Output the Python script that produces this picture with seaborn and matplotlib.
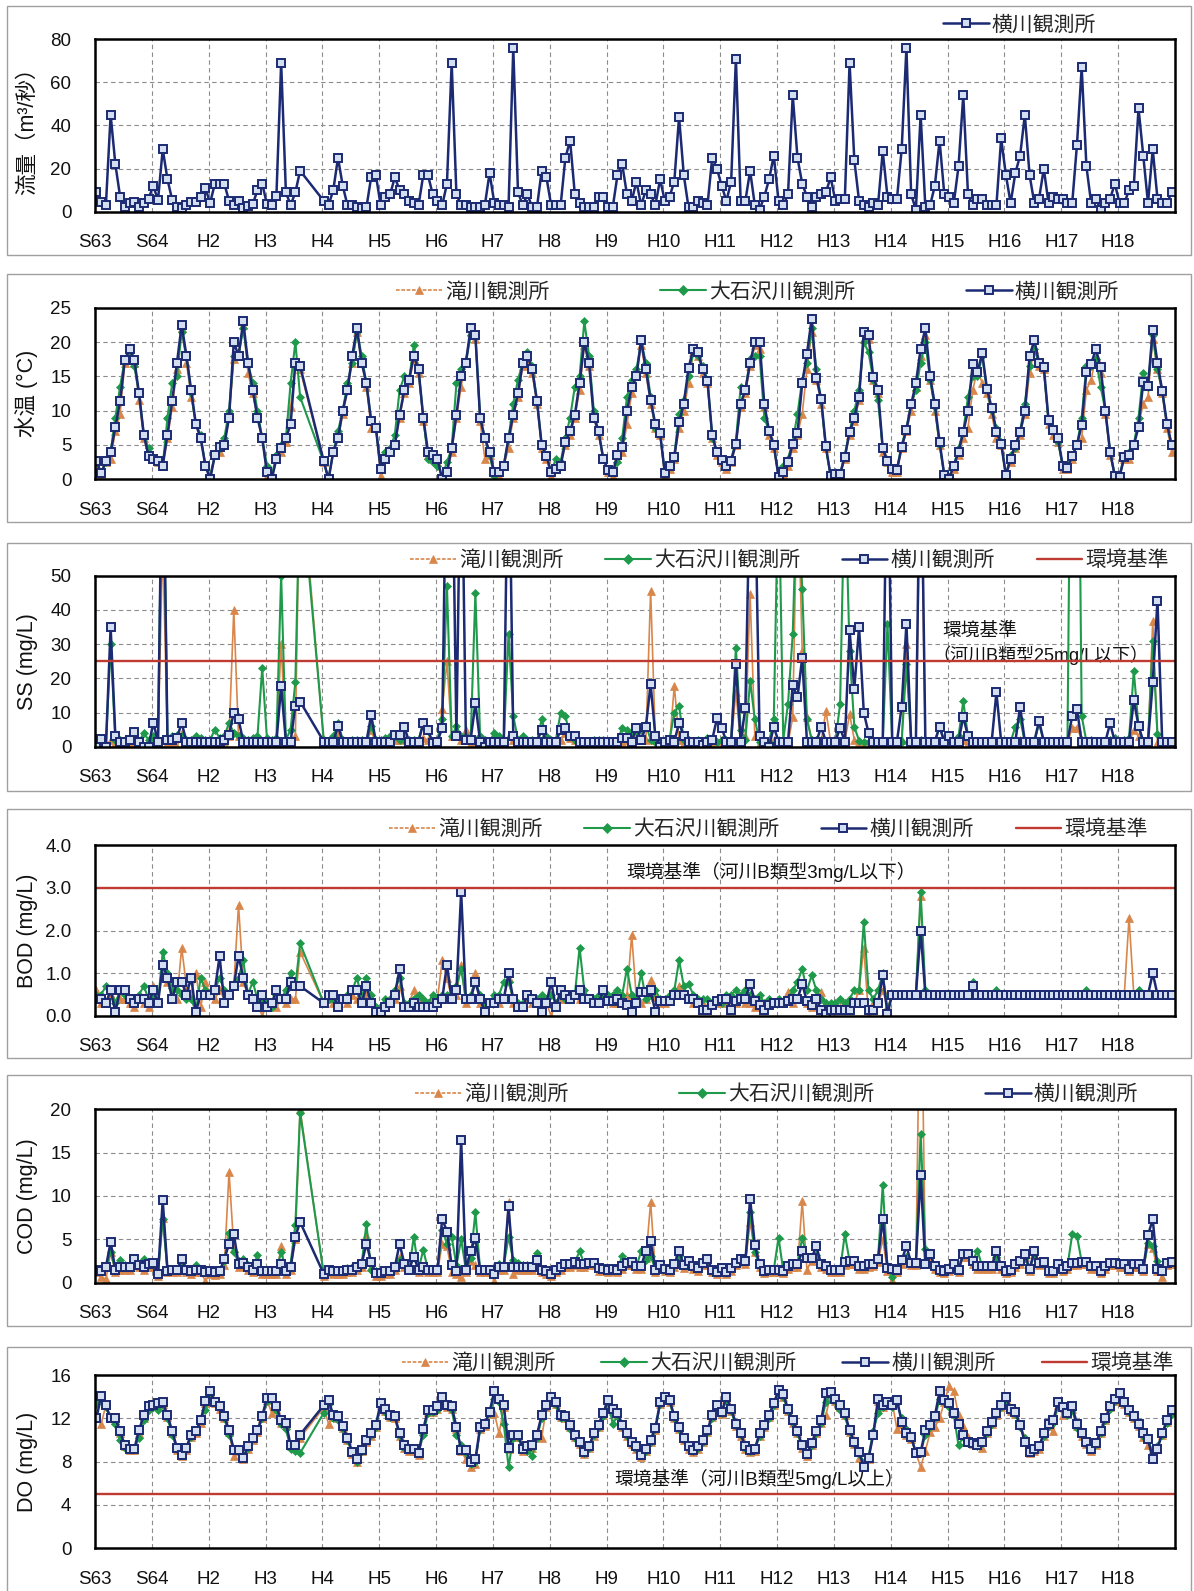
import numpy as np
import pandas as pd
import matplotlib
matplotlib.use("Agg")
import matplotlib.pyplot as plt
from matplotlib.lines import Line2D
from matplotlib.patches import Rectangle
import seaborn as sns

N = None

YEAR_LABELS = ["S63", "S64", "H2", "H3", "H4", "H5", "H6", "H7", "H8", "H9",
               "H10", "H11", "H12", "H13", "H14", "H15", "H16", "H17", "H18"]
STATIONS = ["滝川観測所", "大石沢川観測所", "横川観測所"]
STD_NAME = "環境基準"

STD_SS = 25
STD_BOD = 3
STD_DO = 5

# ---------------- 流量 (横川) ----------------
FLOW_YOKO = [
    [9, 4.6, 3, 45, 22, 7, 2.3, 4, 4.6, 2.3, 4, 6],
    [12, 5.4, 29, 15, 5.4, 2.3, 1.5, 3, 4.6, 4.6, 7, 11],
    [4, 13, 13, 13, 5, 3, 5, 1.5, 2.5, 3.5, 10, 13],
    [3.5, 3, 7.5, 69, 9, 3, 9, 19, N, N, N, N],
    [5, 3, 10, 25, 12, 3, 3, 2, 1.5, 2, 16, 17],
    [3, 7, 8, 16, 10, 8, 5, 4, 3, 17, 17, 8],
    [5, 3, 13, 69, 8, 3, 3, 2, 2, 2, 3, 18],
    [4, 3, 3, 2, 76, 9, 3, 8, 2, 2, 19, 16],
    [3, 3, 3, 25, 33, 8, 4, 2, 2, 2, 7, 7],
    [2, 2, 17, 22, 8, 5, 14, 3, 10, 8, 3, 15],
    [5, 7, 14, 44, 17, 2, 2, 5, 4, 3, 25, 20],
    [12, 5, 14, 71, 5, 5, 19, 3, 1, 7, 15, 26],
    [5, 3, 8, 54, 25, 13, 7, 2, 7, 8, 9, 16],
    [5, 6, 6, 69, 24, 5, 3, 2, 4, 3, 28, 7],
    [6, 6, 29, 76, 8, 1, 45, 2, 3, 12, 33, 8],
    [7, 4, 21, 54, 8, 3, 6, 6, 3, 3, 3, 34],
    [17, 4, 18, 26, 45, 17, 4, 6, 20, 4, 7, 6],
    [6, 4, 4, 31, 67, 21, 4, 6, 1, 4, 6, 13],
    [4, 4, 10, 12, 48, 26, 4, 29, 6, 4, 4, 9],
]

# ---------------- 水温 ----------------
TEMP_TAKI = [
    [2, 0.8, 2.5, 3, 7, 9.5, 17, 18.5, 17, 11.5, 6, 3.5],
    [3, 2.5, 2, 6, 10.5, 16, 22, 17, 12, 8, 6, 2],
    [0, 3.5, 4, 5, 9, 17.5, 18, 22.5, 15.5, 12.5, 9, 6],
    [0.5, 0, 3, 4, 5.5, 10.5, 16.5, 16, N, N, N, N],
    [2.5, 0, 4, 6, 9.5, 13, 17, 21.5, 17, 13.5, 7.5, 7.5],
    [0.5, 3, 4, 5, 9, 12.5, 14, 17.5, 15.5, 8.5, 3.5, 3],
    [2.5, 0, 1, 4, 9, 13.5, 17.5, 21.5, 20.5, 8.5, 3, 3.5],
    [1, 0.5, 2, 4.5, 9, 12, 16.5, 17.5, 15.5, 11, 4.5, 3],
    [0.5, 1.5, 2, 5, 6.5, 9, 13, 19.5, 16.5, 9, 6.5, 3],
    [1, 0.5, 3, 4, 8, 12.5, 15.5, 19.5, 15.5, 11, 7.5, 6.5],
    [0.5, 1.5, 3, 7.5, 10, 14, 18.5, 18, 15.5, 14, 6, 3.5],
    [2.5, 1.5, 2.5, 5, 10.5, 12.5, 16.5, 19.5, 19, 10.5, 6.5, 4.5],
    [0.3, 0.8, 2, 4.5, 6.5, 9.5, 16, 21.5, 14.5, 11, 4.5, 0.5],
    [0.5, 0.5, 3, 6.5, 8.5, 11.5, 20.5, 20.5, 14.5, 12.5, 4, 2.5],
    [1, 1, 4.5, 7, 10, 13.5, 18, 21, 14.5, 10, 5, 0.5],
    [0, 1.5, 3.5, 6, 7.5, 13, 16, 14, 12.5, 9.5, 6, 5],
    [0.5, 2.5, 4.5, 6.5, 9.5, 15.5, 19, 16.5, 16, 8, 6.5, 5.5],
    [1.5, 1.5, 3, 5, 6, 13, 14.5, 18, 15.5, 9.5, 3.5, 0.3],
    [0.3, 3, 3, 5, 8, 11, 12, 20.5, 16, 12.5, 7.5, 4],
]
TEMP_OISHI = [
    [2.5, 1, 2.5, 4, 9, 13.5, 17.5, 18, 16.5, 12.5, 6.5, 4.5],
    [3, 2.5, 2, 9, 14, 15, 21.5, 18, 12.5, 8, 6.5, 2],
    [0.5, 3.5, 4.5, 6, 10, 18, 18, 22, 17, 14, 10, 6],
    [2, 0.5, 3.5, 5, 6, 14, 20, 12, N, N, N, N],
    [2.5, 0, 4, 7, 10, 14, 17, 21.5, 18, 14, 8.5, 7.5],
    [1.5, 4, 4.5, 6.5, 13, 15, 14.5, 19.5, 16, 9, 3, 2.5],
    [2, 0.5, 2.5, 4.5, 14, 16, 17, 21, 21, 9, 6, 3.5],
    [0.5, 1, 2, 6, 11, 14.5, 17, 18.5, 16.5, 11.5, 5, 3.5],
    [1, 3, 2.5, 6, 9, 13.5, 15, 23, 18, 10, 7, 3],
    [1.5, 1, 2.5, 6, 12, 14.5, 16, 20, 17, 12, 7.5, 6.5],
    [1, 2, 3.5, 9.5, 11.5, 15, 18.5, 18, 16.5, 14.5, 6, 4],
    [2.5, 2, 3, 5.5, 13.5, 13, 17.5, 18, 18, 9, 7, 5],
    [0.5, 2, 3, 5.5, 9.5, 14.5, 17, 22, 16, 11.5, 4.5, 0.5],
    [1, 0.8, 3.5, 7, 10, 13, 20, 18.5, 14.5, 11.5, 4.5, 2.5],
    [1.5, 1.5, 5, 7.5, 11, 13, 17, 20, 14.5, 10.5, 5, 0.5],
    [0.3, 2, 4.5, 7, 12, 15, 15, 18, 13, 10, 7.5, 5.5],
    [0.6, 3.5, 4.5, 7, 11, 16.5, 19, 17, 16, 8.5, 7, 5.5],
    [2, 2, 3.5, 5, 9, 16.5, 16.5, 17.5, 13.5, 10, 4, 0.5],
    [0.5, 3.5, 4, 5, 9, 15.5, 13.5, 21, 16, 13, 8, 5],
]
TEMP_YOKO = [
    [2.6, 0.9, 2.6, 4, 7.6, 11.4, 17.4, 19, 17.4, 12.5, 6.5, 3.4],
    [3, 2.6, 2, 6.5, 11.4, 17, 22.5, 18, 13, 8, 6, 2],
    [0, 3.5, 4.7, 5, 9, 20, 18, 23, 17, 13, 9, 6],
    [1, 0, 3, 4.5, 6, 8, 17, 16.5, N, N, N, N],
    [2.6, 0, 4, 6, 10, 13, 18, 22, 17, 14, 8.5, 7.5],
    [1.5, 3, 4, 5, 9.4, 13, 14.5, 18, 16, 9, 4, 3.5],
    [3, 0, 1, 4.5, 9.4, 15, 17, 22, 21, 9, 6, 4],
    [1, 1, 2, 6, 9.4, 12.5, 17, 18, 16, 11.4, 5, 3.4],
    [1, 1.5, 2, 5.5, 7, 9.4, 14, 20, 17, 9, 7, 3],
    [1.3, 1, 3.5, 4.7, 10, 13.4, 15, 20.3, 16, 11.5, 8, 6.7],
    [0.9, 2, 3.2, 8.3, 11, 16.2, 19, 18.5, 16, 14.3, 6.4, 4],
    [2.8, 2, 2.7, 5.2, 11, 13, 17, 20, 20, 11, 7, 5],
    [0.4, 1, 2.5, 5.2, 6.7, 14, 18.3, 23.4, 14.8, 11.7, 4.8, 0.5],
    [0.8, 0.8, 3.3, 6.9, 9, 12, 21.5, 21, 14.9, 13, 4.5, 2.6],
    [1.5, 1.4, 4.7, 7.2, 10.9, 14, 19, 22, 15, 10.9, 5.5, 0.6],
    [0.1, 2, 4, 6.9, 10, 16.8, 15.6, 18.4, 13.2, 10.4, 6.9, 5.2],
    [0.6, 3, 5, 6.9, 10, 17.9, 20.3, 17, 16.4, 8.7, 7.2, 6],
    [2, 1.7, 3.4, 5, 7.9, 15.7, 16.8, 19, 16.3, 10, 4, 0.5],
    [0.4, 3.3, 3.5, 5, 7.6, 14.2, 13.6, 21.8, 17, 12.9, 8.1, 5],
]

# ---------------- SS ----------------
SS_TAKI = [
    [0, 0.5, 0, 2, 1, 1, 0, 0.5, 1, 0.5, 0, 0],
    [0.5, 1, 60, 1, 1, 0, 4, 0.5, 1, 1, 1, 1],
    [1, 1, 1, 1.5, 3, 40, 3, 0.5, 0.5, 1, 1, 1],
    [1, 0, 0.5, 30, 1, 2, 3, 85, N, N, N, N],
    [1, 1, 1.5, 4, 1, 0.5, 1, 1, 0, 1, 5, 0.5],
    [0, 1, 1, 2, 2, 3, 1, 1, 1, 2.5, 2, 1],
    [1.5, 11, 25, 3, 3, 2, 5, 1, 0, 0.5, 0.5, 0.5],
    [1.5, 0.5, 0.5, 3, 2, 1, 0.5, 0.5, 0.5, 0.5, 2, 0],
    [1, 1, 2, 4, 2.5, 2, 1, 1, 1, 1, 1, 1],
    [1, 1, 1, 1.5, 2, 1, 3, 2, 2, 45.6, 2, 1],
    [1, 1, 17.8, 2, 1, 1, 1, 1, 1, 1, 1, 1.5],
    [2, 1, 1, 16, 1, 3, 44.6, 3, 1, 1, 0.5, 2],
    [2, 1, 1, 8.6, 80, 28, 8.6, 2, 2, 1.5, 10.5, 1.5],
    [1.5, 1.5, 1.5, 9.6, 2, 1.5, 1.5, 0.5, 1, 1, 1, 1],
    [1, 1, 2, 30, 1, 1, 85, 1, 1, 1, 1.5, 0.5],
    [1, 0.5, 1, 2, 1, 1, 0.5, 1, 1, 0.5, 1, 1],
    [1, 1, 1, 2, 1, 1, 1, 1, 1, 1, 1, 1],
    [1, 1, 5.6, 5.6, 2, 1, 1, 1, 1, 1, 1, 1],
    [1, 1, 1, 5, 3, 1, 1, 36.8, 1, 0.5, 1, 1],
]
SS_OISHI = [
    [0.5, 1.5, 0.5, 30, 2, 2, 2, 2.5, 3, 1.5, 4, 2],
    [3, 2, 100, 2.5, 3, 3.5, 3, 2, 2, 3, 2.5, 2],
    [2, 5, 2.5, 3, 7, 4, 3, 2.5, 2, 2.5, 3, 23],
    [2.5, 2, 2.5, 50, 2, 5, 19, 80, N, N, N, N],
    [2, 1.5, 3, 7, 2, 0, 2, 2, 2, 1.5, 6, 2],
    [2, 2.5, 3, 3, 2, 2, 2, 2, 2, 7, 4.5, 1.5],
    [2, 8, 47, 3, 6, 3, 3, 2, 45, 3, 2, 1.5],
    [4, 3, 2, 33, 9, 2, 3, 2, 2, 1.5, 8, 3],
    [2, 2, 10, 9, 3, 2, 1.5, 1.5, 1.5, 2, 2, 2],
    [1.5, 1.5, 1.5, 5.6, 5, 4, 4.5, 5, 6.6, 2, 1.5, 1.5],
    [1.5, 2, 10, 12, 2, 2, 1.5, 2, 1.5, 2.5, 2, 1.5],
    [2, 2, 2, 29, 5, 2, 19.3, 8, 1.5, 1.5, 1.5, 8],
    [80, 2, 12.5, 33, 80, 46, 8, 2, 2, 2, 1.5, 1.5],
    [1.5, 12.5, 80, 28, 5.8, 1.8, 1.5, 1.5, 1.5, 1.5, 1.5, 36],
    [1.5, 1.5, 1.5, 24.2, 1.5, 1.5, 2, 1.5, 1.5, 1.5, 6.1, 1.5],
    [2, 1.5, 3, 13.3, 3, 1.5, 1.5, 1.5, 1.5, 1.5, 1.5, 1.5],
    [1.5, 1.5, 5.8, 8.1, 1.5, 1.5, 1.5, 6.8, 1.5, 1.5, 1.5, 1.5],
    [1.5, 2, 150, 150, 9, 1.5, 2, 1.5, 1.5, 1.5, 2, 2.5],
    [1.5, 2, 2.5, 22.2, 5.8, 1.5, 1.5, 31, 3.7, 1.5, 1.5, 1.5],
]
SS_YOKO = [
    [0, 2.2, 0, 35, 3, 1.5, 1.5, 2, 4.2, 1.5, 0, 0],
    [7, 1.5, 100, 2, 2, 2.5, 7, 1.5, 1.5, 1.5, 1.5, 1.5],
    [1.5, 1.5, 1.5, 2, 3.5, 10, 8, 1.5, 1.5, 1.5, 1.5, 1.5],
    [1.5, 1.5, 1.5, 17.7, 1.5, 1.5, 12, 13.2, N, N, N, N],
    [1.5, 1.5, 1.5, 6, 1.5, 1.5, 1.5, 1.5, 1.5, 1.5, 9.2, 1.5],
    [1.5, 1.5, 1.5, 3.5, 3.5, 5.8, 1.5, 1.5, 1.5, 6.8, 4.9, 1],
    [1.5, 5.5, 100, 100, 3, 100, 2, 2, 12.7, 1.5, 0, 1.5],
    [1.5, 1.5, 1.5, 100, 3, 1.5, 1.5, 1.5, 1.5, 1.5, 4.9, 1.5],
    [1.5, 1.5, 4.9, 5.5, 3, 3, 1.5, 1.5, 1.5, 1.5, 1.5, 1.5],
    [1.5, 1.5, 1.5, 2.5, 2.5, 1.5, 5.6, 2, 5.8, 18.3, 3, 0],
    [1.5, 2, 1.5, 7, 3, 1.5, 1.5, 1.5, 0.5, 1.5, 2, 8.3],
    [5.5, 1.5, 1.5, 24.2, 1.5, 11.3, 80, 80, 3, 1.5, 0, 5.8],
    [1.5, 1.5, 1.5, 18.1, 14.4, 26, 1.5, 1.5, 1.5, 5.8, 1.5, 1.5],
    [1.5, 5.5, 1.5, 34, 17, 35, 10, 4, 1.5, 1.5, 1.5, 100],
    [1.5, 1.5, 11.7, 36, 1.5, 1.5, 100, 1.5, 1.5, 1.5, 5.8, 1.5],
    [3, 1.5, 1.5, 8.8, 3, 1.5, 1.5, 1.5, 1.5, 1.5, 15.9, 1.5],
    [1.5, 1.5, 1.5, 11.7, 1.5, 1.5, 1.5, 7.6, 1.5, 1.5, 1.5, 1.5],
    [1.5, 1.5, 9, 11, 1.5, 1.5, 1.5, 1.5, 1.5, 1.5, 6.8, 1.5],
    [1.5, 1.5, 1.5, 13.6, 6.1, 1.5, 1.5, 18.8, 42.7, 1.5, 1.5, 1.5],
]

# ---------------- BOD ----------------
BOD_TAKI = [
    [0.6, 0.3, 0.3, 0.5, 0.2, 0.4, 0.4, 0.3, 0.2, 0.4, 0.3, 0.2],
    [0.7, 0.4, 1.1, 0.8, 0.5, 0.4, 1.6, 0.7, 0.5, 1.0, 0.2, 0.8],
    [0.5, 0.4, 0.6, 0.4, 0.5, 0.7, 2.6, 0.8, 0.5, 0.4, 0.3, 0.0],
    [0.3, 0.3, 0.2, 0.4, 0.3, 0.4, 0.4, 1.5, N, N, N, N],
    [0.3, 0.4, 0.3, 0.3, 0.4, 0.3, 0.5, 0.4, 0.3, 0.5, 0.3, 0.1],
    [0.0, 0.3, 0.3, 0.4, 0.7, 0.3, 0.3, 0.6, 0.3, 0.4, 0.3, 0.4],
    [0.4, 1.3, 0.9, 0.4, 0.5, 1.2, 0.3, 0.4, 1.0, 0.3, 0.2, 0.3],
    [0.3, 0.3, 0.4, 0.9, 0.3, 0.2, 0.2, 0.4, 0.3, 0.3, 0.1, 0.3],
    [0.0, 0.3, 0.4, 0.4, 0.5, 0.5, 0.4, 0.5, 0.4, 0.3, 0.3, 0.4],
    [0.4, 0.3, 0.3, 0.4, 0.5, 1.9, 0.4, 0.3, 0.4, 0.85, 0.45, 0.3],
    [0.3, 0.4, 0.5, 0.7, 0.5, 0.4, 0.3, 0.3, 0.3, 0.2, 0.3, 0.3],
    [0.3, 0.3, 0.2, 0.3, 0.4, 0.3, 0.3, 0.2, 0.3, 0.2, 0.3, 0.3],
    [0.3, 0.3, 0.55, 0.3, 0.4, 0.75, 0.3, 0.2, 0.3, 0.55, 0.3, 0.2],
    [0.2, 0.2, 0.3, 0.3, 0.3, 0.6, 1.6, 0.0, 0.3, 0.3, 0.6, 0.2],
    [0.5, 0.5, 0.5, 0.5, 0.5, 0.5, 2.8, 0.5, 0.5, 0.5, 0.5, 0.5],
    [0.5, 0.5, 0.5, 0.5, 0.5, 0.5, 0.5, 0.5, 0.5, 0.5, 0.5, 0.5],
    [0.5, 0.5, 0.5, 0.5, 0.5, 0.5, 0.5, 0.5, 0.5, 0.5, 0.5, 0.5],
    [0.5, 0.5, 0.5, 0.5, 0.5, 0.5, 0.5, 0.5, 0.5, 0.5, 0.5, 0.5],
    [0.5, 0.5, 2.3, 0.5, 0.5, 0.5, 0.5, 0.5, 0.5, 0.5, 0.5, 0.5],
]
BOD_OISHI = [
    [0.5, 0.5, 0.7, 0.6, 0.3, 0.6, 0.5, 0.4, 0.3, 0.5, 0.7, 0.4],
    [0.5, 0.3, 1.5, 1.0, 0.65, 0.6, 0.5, 0.4, 0.4, 0.1, 0.9, 0.6],
    [0.5, 0.6, 0.9, 0.6, 0.5, 0.7, 0.9, 1.3, 0.5, 0.8, 0.4, 0.3],
    [0.3, 0.2, 0.5, 0.4, 0.6, 1.0, 0.7, 1.7, N, N, N, N],
    [0.3, 0.4, 0.4, 0.3, 0.4, 0.5, 0.6, 0.9, 0.4, 0.9, 0.5, 0.2],
    [0.2, 0.4, 0.4, 0.6, 0.9, 0.3, 0.3, 0.4, 0.5, 0.4, 0.3, 0.5],
    [0.4, 0.5, 0.5, 0.4, 0.7, 1.1, 0.4, 0.5, 0.8, 0.5, 0.3, 0.3],
    [0.5, 0.5, 0.8, 0.8, 0.4, 0.3, 0.3, 0.5, 0.4, 0.4, 0.5, 0.4],
    [0.5, 0.3, 0.5, 0.4, 0.4, 0.5, 1.6, 0.6, 0.4, 0.4, 0.5, 0.4],
    [0.5, 0.5, 0.6, 0.5, 1.1, 0.5, 0.4, 1.0, 0.4, 0.5, 0.6, 0.4],
    [0.4, 0.5, 0.6, 1.3, 0.7, 0.75, 0.5, 0.4, 0.4, 0.4, 0.3, 0.4],
    [0.3, 0.5, 0.5, 0.6, 0.5, 0.6, 0.5, 0.4, 0.5, 0.3, 0.4, 0.3],
    [0.4, 0.3, 0.4, 0.6, 0.8, 1.1, 0.6, 0.95, 0.6, 0.4, 0.3, 0.3],
    [0.3, 0.4, 0.3, 0.4, 0.6, 0.6, 2.2, 0.6, 0.4, 0.6, 1.0, 0.15],
    [0.5, 0.5, 0.5, 0.5, 0.5, 0.5, 2.9, 0.6, 0.5, 0.5, 0.5, 0.5],
    [0.5, 0.5, 0.5, 0.5, 0.5, 0.8, 0.5, 0.5, 0.5, 0.5, 0.6, 0.5],
    [0.5, 0.5, 0.5, 0.5, 0.5, 0.5, 0.5, 0.5, 0.5, 0.5, 0.5, 0.5],
    [0.5, 0.5, 0.5, 0.5, 0.5, 0.6, 0.5, 0.5, 0.5, 0.5, 0.5, 0.5],
    [0.5, 0.5, 0.5, 0.5, 0.6, 0.5, 0.5, 0.5, 0.5, 0.5, 0.5, 0.5],
]
BOD_YOKO = [
    [0.4, 0.4, 0.3, 0.6, 0.1, 0.6, 0.6, 0.4, 0.3, 0.4, 0.4, 0.3],
    [0.6, 0.3, 1.2, 0.9, 0.4, 0.8, 0.8, 0.5, 0.9, 0.1, 0.5, 0.5],
    [0.5, 0.6, 1.4, 0.3, 0.5, 0.7, 1.4, 0.9, 0.5, 0.4, 0.2, 0.5],
    [0.2, 0.3, 0.6, 0.4, 0.4, 0.8, 0.7, 0.7, N, N, N, N],
    [0.3, 0.5, 0.5, 0.2, 0.4, 0.4, 0.6, 0.6, 0.3, 0.7, 0.3, 0.1],
    [0.1, 0.2, 0.3, 0.5, 1.1, 0.2, 0.2, 0.3, 0.2, 0.2, 0.2, 0.2],
    [0.3, 0.4, 1.2, 0.4, 0.6, 2.9, 0.4, 0.4, 0.8, 0.4, 0.1, 0.3],
    [0.3, 0.4, 0.4, 1.0, 0.4, 0.2, 0.2, 0.5, 0.4, 0.3, 0.1, 0.3],
    [0.8, 0.2, 0.6, 0.5, 0.4, 0.5, 0.6, 0.4, 0.4, 0.3, 0.3, 0.6],
    [0.35, 0.35, 0.4, 0.3, 0.25, 0.1, 0.3, 0.55, 0.55, 0.6, 0.1, 0.35],
    [0.35, 0.35, 0.5, 0.5, 0.5, 0.4, 0.4, 0.3, 0.15, 0.15, 0.25, 0.35],
    [0.4, 0.4, 0.15, 0.35, 0.4, 0.4, 0.75, 0.35, 0.25, 0.15, 0.25, 0.3],
    [0.3, 0.3, 0.35, 0.4, 0.4, 0.75, 0.35, 0.25, 0.4, 0.15, 0.05, 0.15],
    [0.15, 0.15, 0.15, 0.15, 0.3, 0.3, 0.3, 0.15, 0.15, 0.3, 0.95, 0.05],
    [0.5, 0.5, 0.5, 0.5, 0.5, 0.5, 2.0, 0.5, 0.5, 0.5, 0.5, 0.5],
    [0.5, 0.5, 0.5, 0.5, 0.5, 0.7, 0.5, 0.5, 0.5, 0.5, 0.5, 0.5],
    [0.5, 0.5, 0.5, 0.5, 0.5, 0.5, 0.5, 0.5, 0.5, 0.5, 0.5, 0.5],
    [0.5, 0.5, 0.5, 0.5, 0.5, 0.5, 0.5, 0.5, 0.5, 0.5, 0.5, 0.5],
    [0.5, 0.5, 0.5, 0.5, 0.5, 0.5, 0.5, 1.0, 0.5, 0.5, 0.5, 0.5],
]

# ---------------- COD ----------------
COD_TAKI = [
    [1.2, 0.7, 0.4, 3.5, 1.2, 1.5, 1.5, 1.5, 2.2, 1.8, 1.5, 1.8],
    [1.8, 0.8, 7.5, 1.2, 1.2, 1.2, 2.0, 1.2, 1.0, 1.2, 1.2, 0.2],
    [1.0, 0.9, 1.0, 2.0, 12.8, 4.0, 1.8, 2.0, 1.5, 1.2, 1.8, 1.0],
    [1.0, 1.0, 1.0, 4.2, 1.0, 1.5, 5.0, 20.0, N, N, N, N],
    [0.8, 1.2, 1.0, 1.0, 1.0, 1.2, 1.2, 1.5, 1.8, 5.5, 1.8, 0.8],
    [0.8, 1.0, 1.0, 1.5, 3.0, 1.8, 1.5, 1.5, 1.2, 1.5, 1.2, 1.2],
    [1.2, 4.5, 4.2, 1.2, 1.0, 0.7, 1.2, 2.5, 2.0, 1.2, 1.2, 1.2],
    [0.2, 1.5, 1.5, 9.3, 1.0, 1.5, 1.5, 1.5, 1.5, 2.0, 1.2, 1.0],
    [0.8, 1.2, 1.5, 1.8, 1.8, 2.0, 1.8, 1.8, 2.0, 2.0, 1.4, 1.3],
    [1.2, 1.3, 1.2, 1.6, 2.0, 2.0, 1.6, 1.6, 2.8, 9.3, 1.2, 1.7],
    [1.3, 1.2, 1.8, 3.0, 1.7, 2.2, 1.6, 1.4, 2.0, 2.4, 1.2, 1.0],
    [1.4, 1.0, 1.4, 2.0, 2.4, 2.2, 7.0, 3.5, 1.8, 1.1, 1.2, 1.2],
    [1.2, 1.1, 1.6, 1.8, 1.8, 9.4, 1.5, 2.5, 3.0, 1.8, 1.6, 1.2],
    [1.2, 1.2, 2.0, 2.2, 2.2, 1.6, 1.6, 1.8, 1.9, 2.4, 5.0, 1.4],
    [0.3, 1.2, 2.2, 3.0, 2.0, 2.0, 40.0, 2.5, 2.8, 1.6, 1.2, 1.1],
    [1.3, 1.8, 1.2, 3.0, 3.0, 2.2, 1.6, 1.6, 1.6, 1.6, 3.3, 1.6],
    [1.1, 1.2, 1.8, 2.2, 3.0, 1.3, 3.3, 2.0, 2.1, 1.1, 1.1, 1.8],
    [1.3, 1.6, 2.0, 2.0, 2.1, 2.1, 1.6, 1.6, 1.1, 1.6, 2.0, 2.0],
    [1.8, 1.8, 1.3, 1.8, 1.8, 1.3, 4.5, 4.0, 1.3, 0.6, 2.0, 2.1],
]
COD_OISHI = [
    [1.5, 1.3, 1.8, 3.5, 1.5, 2.6, 2.0, 2.0, 2.7, 2.0, 2.7, 2.2],
    [2.3, 1.0, 7.4, 1.5, 1.5, 1.6, 2.0, 1.5, 1.4, 2.0, 1.5, 1.3],
    [1.4, 1.2, 1.5, 2.5, 5.7, 3.5, 2.5, 2.7, 2.0, 1.5, 3.2, 1.3],
    [1.5, 1.3, 1.5, 3.5, 1.5, 2.2, 6.7, 19.6, N, N, N, N],
    [1.0, 1.5, 1.4, 1.3, 1.5, 1.7, 1.8, 2.0, 2.2, 6.8, 1.5, 1.3],
    [1.2, 1.3, 1.5, 1.8, 2.6, 2.2, 1.5, 5.3, 1.5, 3.8, 1.5, 1.5],
    [1.5, 6.1, 4.5, 5.3, 2.0, 5.0, 1.5, 2.8, 8.1, 1.5, 1.5, 1.5],
    [1.2, 2.2, 2.0, 5.3, 2.6, 2.3, 2.0, 2.0, 2.0, 3.4, 1.5, 1.3],
    [1.1, 1.5, 1.8, 2.2, 2.2, 2.4, 3.6, 2.2, 2.3, 2.3, 1.7, 1.6],
    [1.5, 1.6, 1.5, 3.1, 2.5, 2.4, 1.9, 3.6, 2.6, 3.1, 1.5, 2.0],
    [1.6, 1.5, 2.3, 3.1, 2.0, 2.5, 2.0, 1.7, 2.3, 2.7, 1.5, 1.2],
    [1.7, 1.2, 1.7, 2.3, 2.7, 2.5, 8.1, 3.5, 2.1, 1.4, 1.5, 1.5],
    [5.2, 1.4, 1.9, 2.1, 2.1, 5.2, 2.9, 2.9, 3.2, 2.1, 1.9, 1.5],
    [1.5, 1.5, 5.6, 2.5, 2.5, 1.9, 1.9, 2.1, 2.2, 2.7, 11.3, 1.7],
    [0.6, 1.5, 2.6, 3.0, 2.3, 2.3, 17.2, 3.9, 3.3, 1.9, 1.5, 1.4],
    [1.6, 2.1, 1.5, 3.3, 3.3, 2.5, 3.7, 1.9, 1.9, 1.9, 3.0, 1.9],
    [1.4, 1.5, 2.1, 2.5, 2.8, 1.6, 3.3, 2.3, 2.4, 1.4, 1.4, 2.1],
    [1.6, 1.9, 5.6, 5.4, 2.4, 2.4, 1.9, 1.9, 1.4, 1.9, 2.3, 2.3],
    [2.1, 2.1, 1.6, 2.1, 2.1, 1.6, 4.6, 4.2, 2.5, 1.4, 2.3, 2.4],
]
COD_YOKO = [
    [1.5, 1.3, 1.8, 4.7, 1.5, 1.8, 1.8, 1.8, 2.7, 2.0, 1.8, 2.2],
    [2.3, 1.0, 9.5, 1.4, 1.5, 1.5, 2.7, 1.5, 1.4, 1.5, 1.5, 1.2],
    [1.4, 1.2, 1.3, 2.7, 4.5, 5.6, 2.2, 2.3, 1.8, 1.5, 2.2, 1.3],
    [1.3, 1.3, 1.3, 2.2, 1.3, 1.8, 5.3, 7.0, N, N, N, N],
    [1.0, 1.5, 1.3, 1.3, 1.3, 1.5, 1.5, 1.8, 2.2, 4.5, 2.4, 1.1],
    [1.1, 1.3, 1.3, 1.8, 4.5, 2.2, 1.5, 3.0, 1.5, 1.8, 1.5, 1.5],
    [1.5, 7.4, 5.9, 2.0, 1.4, 16.5, 1.5, 3.7, 5.1, 1.5, 1.5, 1.5],
    [1.0, 1.8, 1.8, 8.8, 1.8, 1.8, 1.8, 1.8, 1.8, 2.6, 1.5, 1.3],
    [1.0, 1.5, 1.8, 2.2, 2.2, 2.4, 2.2, 2.2, 2.3, 2.3, 1.7, 1.6],
    [1.5, 1.6, 1.5, 1.9, 2.3, 2.4, 1.9, 1.9, 3.7, 4.8, 1.5, 2.0],
    [1.6, 1.5, 2.1, 3.7, 2.0, 2.5, 1.9, 1.7, 2.3, 2.7, 1.5, 1.2],
    [1.7, 1.2, 1.7, 2.3, 2.7, 2.5, 9.7, 4.3, 2.1, 1.4, 1.5, 1.5],
    [1.5, 1.4, 1.9, 2.1, 2.1, 3.6, 2.9, 2.9, 4.2, 2.1, 1.9, 1.5],
    [1.5, 1.5, 2.4, 2.5, 2.5, 1.9, 1.9, 2.1, 2.2, 2.7, 7.4, 1.7],
    [1.6, 1.5, 2.6, 4.2, 2.3, 2.3, 12.4, 2.1, 3.3, 1.9, 1.5, 1.4],
    [1.6, 2.1, 1.5, 3.3, 3.3, 2.5, 1.9, 1.9, 1.9, 1.9, 3.7, 1.9],
    [1.4, 1.5, 2.1, 2.5, 3.3, 1.6, 3.6, 2.3, 2.4, 1.4, 1.4, 2.1],
    [1.6, 1.9, 2.3, 2.3, 2.4, 2.4, 1.9, 1.9, 1.4, 1.9, 2.3, 2.3],
    [2.1, 2.1, 1.6, 2.1, 2.1, 1.6, 5.5, 7.3, 1.6, 1.4, 2.3, 2.4],
]

# ---------------- DO ----------------
DO_TAKI = [
    [12, 11.5, 13.2, 12, 11.8, 10.6, 9.4, 9.1, 9.1, 10.6, 12.0, 13.0],
    [13.5, 13.2, 13.3, 12.1, 10.6, 9.1, 8.5, 9.1, 10.3, 10.6, 11.6, 13.4],
    [14.3, 13.4, 12.9, 12.0, 10.7, 8.5, 9.0, 8.2, 9.2, 10.0, 10.7, 12.0],
    [13.7, 12.5, 12.9, 11.6, 11.4, 9.4, 9.4, 10.2, N, N, N, N],
    [13.0, 11.5, 12.1, 12.0, 11.1, 10.0, 8.7, 8.0, 9.0, 9.8, 10.4, 11.2],
    [13.2, 12.7, 12.1, 12.0, 10.4, 9.3, 9.0, 9.0, 8.6, 10.8, 12.6, 12.6],
    [12.9, 13.8, 13.0, 12.9, 11.0, 9.0, 8.2, 7.5, 7.8, 11.0, 11.3, 12.4],
    [12.5, 10.6, 13.0, 9.2, 10.3, 10.3, 9.0, 9.2, 9.3, 10.3, 10.2, 13.0],
    [13.8, 13.3, 12.1, 12.0, 11.2, 10.3, 9.6, 8.7, 9.3, 10.4, 11.2, 12.3],
    [13.5, 12.7, 12.3, 11.2, 10.4, 9.6, 9.2, 8.4, 9.0, 9.8, 10.9, 13.3],
    [13.8, 13.5, 12.0, 11.0, 10.0, 9.2, 8.9, 9.2, 9.8, 10.7, 12.1, 13.0],
    [12.4, 13.8, 12.7, 11.3, 10.4, 9.2, 8.9, 9.0, 10.4, 11.2, 12.1, 13.2],
    [14.4, 14.0, 12.7, 11.6, 10.6, 9.3, 8.5, 9.5, 10.6, 11.6, 12.3, 14.2],
    [13.6, 13.0, 12.3, 10.7, 9.6, 8.3, 7.8, 8.2, 10.5, 13.6, 13.0, 13.5],
    [13.5, 11.0, 11.5, 10.5, 10.1, 8.8, 7.5, 9.0, 10.7, 11.2, 12.0, 13.5],
    [15.0, 14.5, 12.3, 11.3, 10.3, 9.6, 9.5, 9.3, 10.6, 11.5, 12.3, 13.0],
    [13.8, 12.7, 12.4, 11.5, 10.2, 8.8, 9.0, 9.2, 10.4, 11.3, 10.8, 13.2],
    [12.3, 12.8, 12.9, 11.3, 10.4, 9.6, 9.0, 9.5, 10.6, 11.8, 13.0, 13.6],
    [14.1, 13.3, 12.6, 12.0, 11.3, 10.3, 9.5, 8.6, 9.2, 10.5, 11.7, 12.6],
]
DO_OISHI = [
    [13.3, 14, 13, 12, 11.5, 10, 9.3, 9.2, 9.2, 10.2, 11.8, 12.8],
    [13, 12.8, 13.2, 12, 10.5, 9.2, 8.8, 9.2, 10.3, 10.8, 11.8, 12.8],
    [14, 13.5, 13, 12, 10.5, 9.2, 9.0, 8.5, 9.3, 10.2, 10.8, 12],
    [13.6, 13.6, 12.8, 11.5, 11, 9.2, 9.0, 8.8, N, N, N, N],
    [12.5, 13.3, 12, 11.8, 11, 10, 8.8, 8.0, 9, 10, 10.5, 11.2],
    [13.2, 12.6, 12.1, 12.1, 10.4, 9.3, 9.2, 9.2, 8.8, 10.5, 12.5, 12.6],
    [12.8, 13.6, 13.2, 12.8, 10.5, 9.5, 8.8, 7.8, 8.0, 11.0, 11.5, 12.5],
    [13.8, 13.5, 11.5, 7.5, 10.2, 10.3, 9.2, 9.0, 8.5, 10.2, 12.0, 13.0],
    [13.8, 13.2, 12.0, 12.0, 11.0, 10.2, 9.6, 8.8, 9.3, 10.5, 11.2, 12.2],
    [13.5, 11.5, 12.2, 11.2, 10.4, 9.6, 9.2, 8.6, 9.0, 9.8, 11.0, 13.3],
    [13.8, 13.5, 12.0, 11.0, 10.0, 9.3, 9.0, 9.3, 9.8, 10.7, 12.0, 13.0],
    [12.5, 13.7, 12.7, 11.3, 10.5, 9.3, 9.0, 9.1, 10.4, 11.2, 12.0, 13.2],
    [14.2, 14.0, 12.7, 11.6, 10.6, 9.4, 8.7, 9.5, 10.6, 11.6, 13.5, 14.2],
    [13.6, 12.8, 12.2, 10.7, 9.6, 8.7, 8.0, 8.5, 10.8, 12.5, 13.0, 13.2],
    [13.0, 13.4, 12.0, 11.0, 10.2, 8.9, 8.8, 10.5, 11.2, 12.0, 13.8, 13.5],
    [13.0, 12.3, 9.5, 10.3, 9.7, 9.6, 9.4, 9.7, 10.6, 11.5, 12.3, 13.0],
    [13.7, 12.7, 12.4, 11.2, 10.2, 9.0, 9.2, 9.4, 10.4, 11.3, 11.6, 13.2],
    [12.8, 12.3, 12.8, 11.1, 10.5, 9.6, 9.2, 9.6, 10.6, 11.8, 12.9, 13.6],
    [14.0, 13.3, 12.6, 12.0, 11.3, 10.4, 10.0, 8.8, 9.4, 10.5, 11.6, 12.4],
]
DO_YOKO = [
    [12, 14.1, 13.2, 12, 12, 10.8, 9.5, 9.2, 9.2, 10.9, 12.3, 13.1],
    [13.2, 13.4, 13.5, 12.3, 10.8, 9.3, 8.6, 9.3, 10.5, 10.8, 11.8, 13.6],
    [14.5, 13.5, 13.1, 12.2, 10.9, 9.1, 9.1, 8.3, 9.4, 10.2, 10.9, 12.2],
    [13.9, 13.9, 13.1, 11.8, 11.6, 9.5, 9.5, 10.5, N, N, N, N],
    [13.2, 13.7, 12.3, 12.2, 11.3, 10.2, 8.9, 8.2, 9.1, 10, 10.6, 11.4],
    [13.4, 12.9, 12.3, 12.2, 10.6, 9.5, 9.2, 9.2, 8.8, 11, 12.8, 12.8],
    [13.1, 14, 13.2, 13.1, 11.2, 9.1, 9.1, 8.0, 8.2, 11.2, 11.5, 12.6],
    [14.5, 13.8, 13.2, 9.3, 10.5, 10.5, 9.2, 9.4, 9.5, 10.5, 12.3, 13.2],
    [14, 13.5, 12.3, 12.2, 11.4, 10.5, 9.8, 8.9, 9.4, 10.6, 11.4, 12.5],
    [13.7, 12.9, 12.5, 11.4, 10.6, 9.8, 9.4, 8.6, 9.2, 10, 11.1, 13.5],
    [14, 13.7, 12.2, 11.2, 10.2, 9.4, 9.1, 9.4, 10, 10.9, 12.3, 13.2],
    [12.6, 14, 12.9, 11.5, 10.6, 9.4, 9.1, 9.2, 10.6, 11.4, 12.3, 13.4],
    [14.6, 14.2, 12.9, 11.8, 10.8, 9.5, 8.7, 9.7, 10.8, 11.8, 14.3, 14.4],
    [13.8, 13.2, 12.5, 10.9, 9.8, 8.9, 7.5, 8.3, 10.5, 13.8, 13.2, 13.5],
    [13.2, 13.7, 11.7, 10.6, 10.3, 8.8, 8.9, 10.9, 11.4, 12.2, 14.5, 13.7],
    [13.4, 12.5, 11.5, 10.5, 9.8, 9.7, 9.5, 9.8, 10.8, 11.7, 12.5, 13.2],
    [14, 12.9, 12.6, 11.4, 9.8, 8.9, 9.2, 9.4, 10.6, 11.5, 11.8, 13.5],
    [13.0, 12.5, 13.1, 11.5, 10.6, 9.8, 9.2, 9.7, 10.8, 12.0, 13.1, 13.8],
    [14.3, 13.5, 12.8, 12.2, 11.5, 10.6, 10.1, 8.2, 9.2, 10.6, 11.8, 12.8],
]


def flat(rows):
    out = []
    for r in rows:
        r = list(r)[:12] + [None] * max(0, 12 - len(r))
        out.extend(np.nan if v is None else float(v) for v in r)
    return np.array(out, dtype=float)


N_MONTH = 12 * len(YEAR_LABELS)
T = (np.arange(N_MONTH) + 0.3) / 12.0

RED = "#bf3a30"
STYLE = {
    "taki": dict(c="#d8864a", m="^", ms=5.5, mfc="#d8864a", mec="#d8864a", mew=0.5, lw=1.2, z=3),
    "oishi": dict(c="#1f9a4b", m="D", ms=4.3, mfc="#1f9a4b", mec="#1f9a4b", mew=0.5, lw=1.5, z=4),
    "yoko": dict(c="#1b2a72", m="s", ms=5.6, mfc="#d3def0", mec="#1b2a72", mew=1.4, lw=1.8, z=5),
}
KEY_LABEL = {"taki": STATIONS[0], "oishi": STATIONS[1], "yoko": STATIONS[2]}

sns.set_theme(style="white")
plt.rcParams["font.family"] = ["Liberation Sans", "Noto Sans CJK JP", "DejaVu Sans"]
plt.rcParams["axes.unicode_minus"] = False

W, H = 1194, 1591
fig = plt.figure(figsize=(W / 100, H / 100), dpi=100)
fig.patch.set_facecolor("white")


def fx(px):
    return px / W


def fy(py):
    return 1 - py / H


AX_L, AX_R = 95, 1175

PANELS = [
    dict(top=39.3, bot=211.7, frame=(6, 255),
         series=[("yoko", FLOW_YOKO)], ymax=80, yticks=[0, 20, 40, 60, 80], fmt="{:.0f}",
         ylabel="流量（m³/秒）", std=None, leg_r=1096, leg_y=25, cs=5.3),
    dict(top=307.7, bot=479.3, frame=(274, 522),
         series=[("taki", TEMP_TAKI), ("oishi", TEMP_OISHI), ("yoko", TEMP_YOKO)],
         ymax=25, yticks=[0, 5, 10, 15, 20, 25], fmt="{:.0f}",
         ylabel="水温 (°C)", std=None, leg_r=1119, leg_y=291.5, cs=5.3),
    dict(top=575.7, bot=746.7, frame=(543, 791),
         series=[("taki", SS_TAKI), ("oishi", SS_OISHI), ("yoko", SS_YOKO)],
         ymax=50, yticks=[0, 10, 20, 30, 40, 50], fmt="{:.0f}",
         ylabel="SS (mg/L)", std=STD_SS, leg_r=1169, leg_y=560, cs=2.0),
    dict(top=845, bot=1016, frame=(809, 1058),
         series=[("taki", BOD_TAKI), ("oishi", BOD_OISHI), ("yoko", BOD_YOKO)],
         ymax=4, yticks=[0, 1, 2, 3, 4], fmt="{:.1f}",
         ylabel="BOD (mg/L)", std=STD_BOD, leg_r=1148, leg_y=829, cs=2.0),
    dict(top=1109.3, bot=1282.7, frame=(1075, 1326),
         series=[("taki", COD_TAKI), ("oishi", COD_OISHI), ("yoko", COD_YOKO)],
         ymax=20, yticks=[0, 5, 10, 15, 20], fmt="{:.0f}",
         ylabel="COD (mg/L)", std=None, leg_r=1138, leg_y=1094, cs=5.3),
    dict(top=1375, bot=1548.3, frame=(1347, 1600),
         series=[("taki", DO_TAKI), ("oishi", DO_OISHI), ("yoko", DO_YOKO)],
         ymax=16, yticks=[0, 4, 8, 12, 16], fmt="{:.0f}",
         ylabel="DO (mg/L)", std=STD_DO, leg_r=1174, leg_y=1363, cs=2.2),
]

GRID_KW = dict(linestyle=(0, (4, 3)), color="#8c8c8c", linewidth=0.8)

axes = []
for p in PANELS:
    # outer chart frame
    ft, fb = p["frame"]
    fig.add_artist(Rectangle((fx(7), fy(fb)), fx(1191) - fx(7), (fb - ft) / H,
                             transform=fig.transFigure, fill=False,
                             edgecolor="#a0a0a0", linewidth=1.0, zorder=0))
    ax = fig.add_axes([fx(AX_L), fy(p["bot"]), fx(AX_R) - fx(AX_L), (p["bot"] - p["top"]) / H])
    axes.append(ax)
    ax.set_facecolor("white")

    handles, labels = [], []
    for key, rows in p["series"]:
        st = STYLE[key]
        df = pd.DataFrame({"t": T, "v": flat(rows)}).dropna()
        sns.lineplot(data=df, x="t", y="v", ax=ax, color=st["c"], marker=st["m"],
                     markersize=st["ms"], markerfacecolor=st["mfc"],
                     markeredgecolor=st["mec"], markeredgewidth=st["mew"],
                     linewidth=st["lw"], zorder=st["z"], estimator=None,
                     sort=False, legend=False)
        ls = (0, (2.2, 1.0)) if key == "taki" else "-"
        handles.append(Line2D([], [], color=st["c"], marker=st["m"], markersize=st["ms"] + 0.5,
                              markerfacecolor=st["mfc"], markeredgecolor=st["mec"],
                              markeredgewidth=st["mew"], linewidth=st["lw"], linestyle=ls))
        labels.append(KEY_LABEL[key])

    if p["std"] is not None:
        ax.axhline(p["std"], color=RED, linewidth=1.7, zorder=6)
        handles.append(Line2D([], [], color=RED, linewidth=1.7))
        labels.append(STD_NAME)

    ax.set_xlim(0, len(YEAR_LABELS))
    ax.set_ylim(0, p["ymax"])
    ax.set_xticks(np.arange(len(YEAR_LABELS)))
    ax.set_xticklabels(YEAR_LABELS)
    ax.set_yticks(p["yticks"])
    ax.set_yticklabels([p["fmt"].format(v) for v in p["yticks"]])
    ax.tick_params(axis="both", length=0, labelsize=13.5, colors="#111111")
    ax.tick_params(axis="y", pad=17)
    ax.tick_params(axis="x", pad=16)
    ax.set_axisbelow(True)
    ax.grid(True, axis="both", **GRID_KW)
    for s in ax.spines.values():
        s.set_visible(True)
        s.set_linewidth(1.8)
        s.set_color("black")
        s.set_zorder(7)
    ax.set_xlabel("")
    ax.set_ylabel(p["ylabel"], fontsize=15.5, color="#111111")
    ax.yaxis.set_label_coords(-0.053, 0.5)

    ax.legend(handles, labels, loc="center right",
              bbox_to_anchor=(fx(p["leg_r"]), fy(p["leg_y"])),
              bbox_transform=fig.transFigure, ncol=len(handles), frameon=False,
              fontsize=15, handlelength=2.2, handletextpad=0.15,
              columnspacing=p["cs"], borderaxespad=0, borderpad=0)

# annotations for the environmental standards
ax_ss, ax_bod, ax_do = axes[2], axes[3], axes[5]
ax_ss.text(fx(942), fy(631), "環境基準", transform=fig.transFigure, fontsize=13.5,
           ha="left", va="center", color="#111111", zorder=1)
ax_ss.text(fx(932), fy(655), "（河川B類型25mg/L以下）", transform=fig.transFigure,
           fontsize=13, ha="left", va="center", color="#111111", zorder=1)
ax_bod.text(fx(626), fy(872), "環境基準（河川B類型3mg/L以下）", transform=fig.transFigure,
            fontsize=13.5, ha="left", va="center", color="#111111", zorder=1)
ax_do.text(fx(614), fy(1479), "環境基準（河川B類型5mg/L以上）", transform=fig.transFigure,
           fontsize=13.5, ha="left", va="center", color="#111111", zorder=1)

fig.savefig("out.png", dpi=100, facecolor="white")
